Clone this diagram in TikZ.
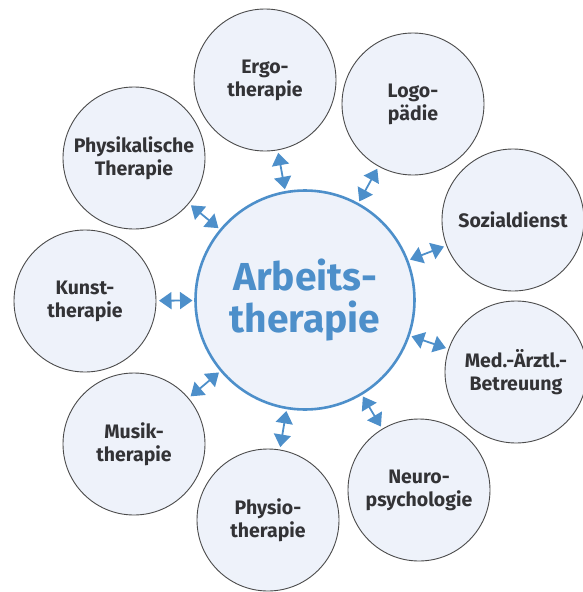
\documentclass[tikz,border=0pt]{standalone}
\usepackage{fontspec}
\setmainfont{Fira Sans}
\usetikzlibrary{arrows.meta}
\definecolor{fillc}{HTML}{EEF2FA}
\definecolor{bluec}{HTML}{4D8FCA}
\definecolor{textc}{HTML}{333336}
\definecolor{edgec}{HTML}{4A4A4A}
\tikzset{
  outer/.style={circle, draw=edgec, line width=0.9pt, fill=fillc, minimum size=142pt, inner sep=0pt, outer sep=0pt, align=center, text=textc, font=\bfseries\fontsize{19.5}{23}\selectfont},
  hub/.style={circle, draw=bluec, line width=2.6pt, fill=fillc, minimum size=219pt, inner sep=0pt, outer sep=0pt, align=center, text=bluec, font=\bfseries\fontsize{39}{42}\selectfont},
  link/.style={draw=bluec, line width=1.8pt, {Triangle[length=12.5pt,width=17pt]}-{Triangle[length=12.5pt,width=17pt]}, shorten <=3pt, shorten >=3pt}
}
\begin{document}
\begin{tikzpicture}[x=1pt,y=-1pt]
\useasboundingbox (0,0) rectangle (582,592);
\node[hub] (c) at (305,300) {Arbeits-\\therapie};
\node[outer] (ergo) at (265,80) {Ergo-\\therapie};
\node[outer] (logo) at (413,104) {Logo-\\pädie};
\node[outer] (sozial) at (513,220) {Sozialdienst};
\node[outer] (med) at (516,372) {Med.-Ärztl.-\\Betreuung};
\node[outer] (neuro) at (419,490) {Neuro-\\psychologie};
\node[outer] (physio) at (268,520) {Physio-\\therapie};
\node[outer] (musik) at (134,444) {Musik-\\therapie};
\node[outer] (kunst) at (85,301) {Kunst-\\therapie};
\node[outer] (physik) at (134,158) {Physikalische\\Therapie};
\foreach \n in {ergo,logo,sozial,med,neuro,physio,musik,kunst,physik}
  \draw[link] (c) -- (\n);
\end{tikzpicture}
\end{document}
